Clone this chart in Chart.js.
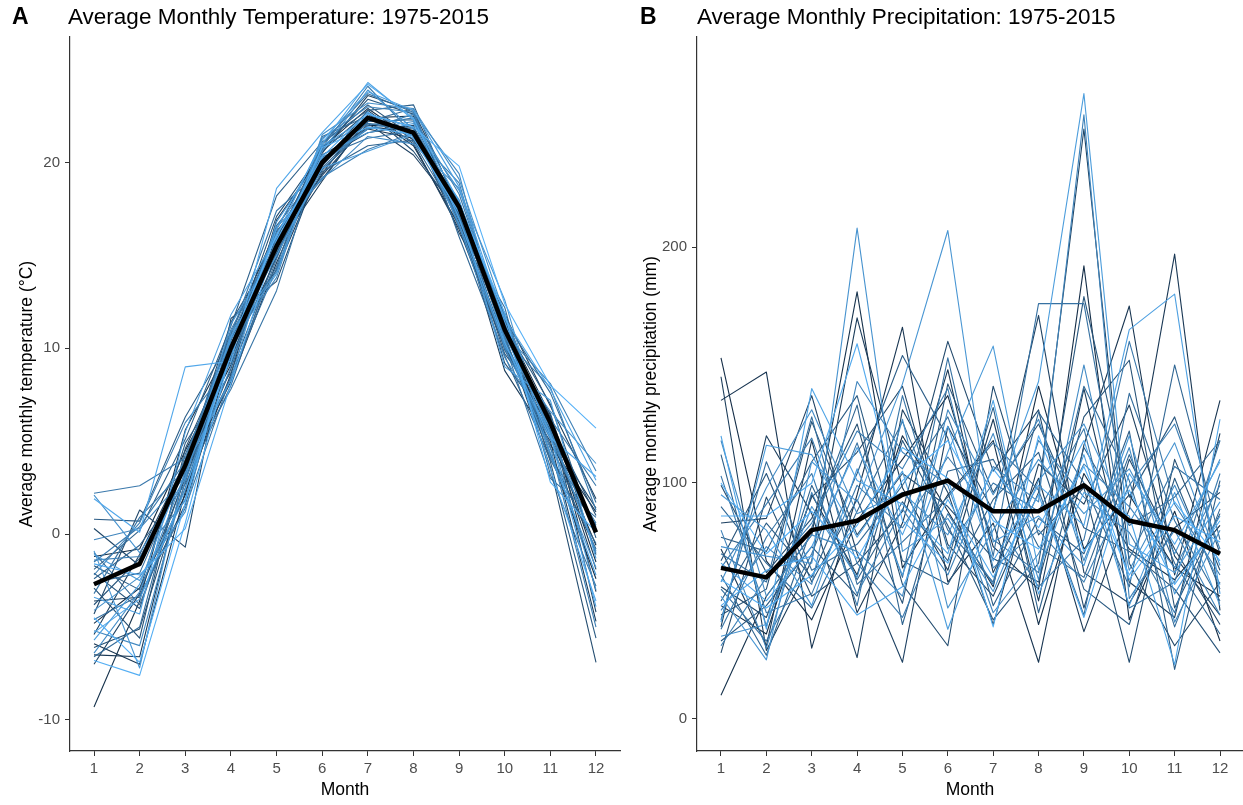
<!DOCTYPE html>
<html>
<head>
<meta charset="utf-8">
<script src="https://cdn.jsdelivr.net/npm/chart.js@4.4.1/dist/chart.umd.min.js"></script>
<style>
  body { margin: 0; background: #fff; }
  #wrapA, #wrapB { position: absolute; top: 0; }
  #wrapA { left: 0; }
  #wrapB { left: 625px; }
</style>
</head>
<body>
<div id="wrapA"><canvas id="tempChart" width="625" height="805"></canvas></div>
<div id="wrapB"><canvas id="precipChart" width="618" height="805"></canvas></div>
<script>
var months = [1, 2, 3, 4, 5, 6, 7, 8, 9, 10, 11, 12];
var years = [];
for (var y = 1975; y <= 2015; y++) years.push(y);

var tempTicks = [-10, 0, 10, 20];
var precipTicks = [0, 100, 200];

// monthly mean over all years
var tempMean = [-2.7, -1.6, 3.7, 10.0, 15.5, 20.0, 22.4, 21.6, 17.6, 11.0, 6.0, 0.1];
var precipMean = [64, 60, 80, 84, 95, 101, 88, 88, 99, 84, 80, 70];

// one row per year, Jan..Dec (deg C)
var tempRows = [
  [-1.2, -0.8, 4.5, 9.1, 15.8, 19.6, 22.0, 21.9, 17.0, 10.4, 5.2, -0.6],
  [-4.8, -2.9, 2.1, 10.8, 16.4, 20.8, 22.9, 21.2, 17.8, 11.6, 4.3, -2.4],
  [-9.3, -3.6, 5.6, 10.2, 15.1, 19.4, 22.6, 20.9, 16.6, 10.1, 5.8, -1.5],
  [-5.9, -7.0, 2.3, 8.6, 16.9, 20.4, 21.8, 21.3, 17.9, 11.3, 6.4, -3.1],
  [-6.5, -6.6, 3.4, 8.2, 14.6, 20.1, 21.9, 21.7, 16.8, 10.3, 4.8, 1.2],
  [-3.6, -3.4, 1.6, 9.8, 15.4, 19.0, 22.4, 22.5, 17.1, 8.8, 5.0, -4.7],
  [-5.4, -1.1, 3.9, 10.9, 14.2, 19.9, 22.8, 21.0, 16.4, 10.0, 5.6, -1.9],
  [-7.0, -3.2, 3.0, 8.9, 16.1, 19.3, 22.1, 20.4, 17.3, 11.8, 6.9, 1.9],
  [0.3, -1.7, 4.0, 9.5, 14.9, 20.5, 23.6, 22.8, 17.6, 10.9, 6.3, -4.2],
  [-4.3, 1.3, -0.7, 11.6, 13.6, 20.2, 21.6, 22.0, 16.2, 11.9, 5.2, 1.4],
  [-6.1, -5.1, 2.8, 10.4, 16.3, 19.1, 22.3, 21.6, 17.9, 10.7, 3.6, -6.9],
  [-2.9, -5.6, 4.6, 10.1, 17.1, 20.6, 22.7, 20.6, 17.2, 11.1, 4.3, -0.8],
  [-3.8, -1.3, 3.7, 11.4, 15.6, 21.0, 23.1, 21.4, 17.5, 9.2, 5.9, 1.0],
  [-2.1, -4.0, 3.2, 9.4, 15.9, 20.7, 23.4, 22.6, 17.1, 9.7, 6.5, -1.1],
  [-1.7, -3.0, 4.9, 8.7, 15.0, 19.8, 22.6, 21.9, 17.6, 11.4, 3.9, -5.6],
  [0.8, 0.7, 6.3, 10.5, 15.3, 20.1, 22.2, 22.3, 17.0, 11.2, 7.0, -0.2],
  [-1.9, 0.2, 5.1, 11.2, 18.2, 21.1, 22.8, 23.1, 17.4, 10.6, 4.1, 0.5],
  [-2.4, -0.6, 2.7, 8.0, 15.2, 19.5, 20.9, 21.2, 17.8, 9.9, 5.6, 0.4],
  [-1.0, -3.8, 2.5, 10.0, 16.6, 19.7, 22.2, 22.9, 16.0, 9.6, 4.0, -0.5],
  [-6.6, -5.0, 4.3, 9.9, 14.4, 21.4, 22.5, 21.1, 17.0, 11.5, 7.6, 1.7],
  [-2.6, -2.1, 3.6, 8.4, 14.8, 21.0, 23.7, 22.7, 16.5, 12.2, 3.2, -2.8],
  [-4.6, -3.3, 1.4, 8.5, 14.3, 20.3, 21.3, 21.7, 17.1, 10.2, 3.0, 0.9],
  [-3.2, 0.9, 3.5, 7.8, 13.1, 20.9, 22.1, 21.8, 17.7, 10.6, 4.6, 0.6],
  [2.2, 2.6, 4.1, 10.7, 17.4, 19.6, 22.0, 22.4, 18.3, 11.0, 6.2, 2.6],
  [-1.5, 0.4, 3.9, 11.0, 15.6, 20.8, 24.1, 21.5, 18.9, 10.5, 7.9, 1.3],
  [-2.2, 0.6, 6.0, 9.2, 15.9, 19.2, 20.7, 21.6, 16.9, 11.7, 4.7, -5.0],
  [-1.4, -1.2, 1.8, 10.6, 16.2, 20.0, 21.8, 22.6, 17.3, 10.8, 8.1, 3.4],
  [-0.3, 0.3, 3.1, 10.3, 13.8, 21.3, 23.0, 22.7, 19.4, 10.0, 5.1, 0.3],
  [-5.2, -6.0, 2.9, 9.0, 15.7, 20.2, 21.8, 22.2, 16.6, 9.5, 5.5, -0.9],
  [-6.4, -3.1, 3.3, 9.6, 16.5, 19.1, 21.4, 21.0, 18.6, 10.7, 5.7, -1.0],
  [-4.1, -2.3, 1.2, 10.9, 14.1, 21.5, 23.2, 22.9, 19.1, 11.8, 5.4, -3.0],
  [2.1, -1.0, 3.0, 11.3, 15.3, 20.6, 23.9, 21.8, 16.7, 10.1, 6.6, 3.8],
  [-0.9, -7.2, 3.6, 8.3, 16.8, 20.4, 21.6, 22.1, 18.5, 12.6, 4.2, -1.8],
  [-1.1, -2.5, 1.9, 10.5, 14.0, 20.9, 22.4, 21.4, 18.0, 10.4, 4.4, -2.2],
  [-5.7, -2.7, 3.8, 10.6, 15.0, 19.7, 20.6, 21.5, 17.6, 9.0, 7.2, -1.3],
  [-3.4, -4.3, 5.5, 11.8, 16.0, 21.2, 23.8, 22.8, 18.7, 11.4, 5.3, -3.9],
  [-5.3, -3.5, 2.4, 9.7, 16.4, 21.0, 24.3, 22.3, 17.9, 11.6, 7.8, 2.9],
  [1.9, 0.1, 9.0, 9.3, 18.6, 21.6, 24.2, 22.4, 17.0, 10.3, 5.2, 3.1],
  [-1.6, -2.2, 0.3, 8.1, 15.8, 20.3, 22.7, 21.3, 17.3, 11.2, 3.5, -3.6],
  [-6.8, -7.6, 0.6, 9.8, 15.4, 20.8, 21.9, 21.5, 17.8, 11.9, 2.8, 0.1],
  [-4.5, -6.9, 1.7, 10.2, 16.1, 20.0, 22.6, 21.9, 19.8, 12.4, 8.0, 5.7]
];

// one row per year, Jan..Dec (mm)
var precipRows = [
  [48, 36, 95, 61, 120, 88, 56, 141, 72, 95, 64, 52],
  [153, 67, 42, 84, 110, 137, 73, 55, 192, 42, 88, 33],
  [10, 52, 78, 181, 64, 95, 118, 40, 104, 72, 59, 82],
  [135, 147, 30, 95, 166, 58, 83, 24, 116, 175, 61, 135],
  [72, 31, 118, 45, 83, 148, 62, 102, 37, 89, 197, 46],
  [145, 29, 67, 170, 98, 63, 127, 50, 140, 58, 43, 121],
  [39, 120, 87, 26, 131, 96, 40, 108, 91, 133, 69, 44],
  [83, 85, 137, 70, 24, 124, 88, 171, 62, 49, 81, 96],
  [56, 43, 94, 113, 141, 74, 52, 96, 250, 66, 31, 58],
  [28, 94, 52, 66, 88, 160, 105, 131, 47, 110, 72, 40],
  [99, 62, 85, 125, 57, 31, 141, 78, 98, 24, 110, 63],
  [44, 55, 126, 78, 104, 90, 68, 58, 128, 152, 47, 87],
  [67, 104, 58, 93, 49, 142, 96, 125, 81, 71, 55, 28],
  [33, 48, 73, 52, 118, 82, 42, 66, 179, 94, 128, 70],
  [77, 71, 109, 137, 67, 57, 93, 113, 55, 40, 102, 55],
  [50, 83, 60, 104, 154, 119, 48, 85, 70, 122, 21, 101],
  [112, 39, 99, 59, 92, 67, 132, 45, 115, 82, 94, 118],
  [61, 27, 81, 133, 40, 105, 110, 73, 60, 112, 66, 36],
  [90, 66, 47, 88, 126, 80, 58, 130, 100, 56, 150, 76],
  [42, 109, 63, 74, 99, 128, 76, 62, 141, 101, 39, 89],
  [70, 58, 128, 57, 75, 94, 117, 97, 44, 138, 84, 50],
  [55, 33, 70, 117, 60, 153, 69, 176, 176, 68, 107, 93],
  [38, 77, 104, 48, 137, 72, 100, 88, 123, 47, 58, 118],
  [103, 45, 53, 99, 81, 111, 86, 56, 76, 160, 91, 61],
  [64, 91, 119, 66, 43, 87, 57, 118, 94, 79, 45, 104],
  [31, 60, 83, 122, 106, 140, 64, 80, 58, 99, 125, 72],
  [80, 30, 96, 53, 89, 61, 107, 92, 256, 51, 80, 44],
  [46, 73, 57, 143, 113, 99, 45, 70, 108, 90, 64, 99],
  [118, 52, 78, 71, 52, 131, 95, 127, 67, 115, 41, 80],
  [58, 98, 131, 87, 96, 78, 121, 59, 150, 63, 99, 57],
  [35, 40, 90, 60, 127, 47, 80, 110, 87, 106, 70, 110],
  [73, 69, 66, 208, 71, 85, 54, 101, 125, 83, 117, 65],
  [52, 25, 109, 92, 142, 207, 75, 86, 65, 120, 53, 86],
  [95, 80, 48, 106, 61, 113, 158, 63, 112, 48, 96, 48],
  [41, 116, 112, 77, 105, 38, 89, 143, 265, 74, 62, 92],
  [66, 50, 73, 115, 78, 124, 67, 99, 82, 165, 180, 53],
  [120, 38, 140, 101, 91, 70, 135, 53, 96, 86, 23, 127],
  [48, 63, 69, 44, 56, 93, 60, 95, 43, 104, 74, 109],
  [86, 86, 100, 159, 84, 66, 106, 81, 118, 59, 86, 75],
  [59, 47, 61, 82, 115, 102, 39, 120, 71, 97, 57, 84],
  [100, 70, 88, 68, 101, 118, 84, 72, 107, 61, 92, 67]
];

var FONT = "'Liberation Sans', Arial, sans-serif";
var lowCol = [19, 43, 67];     // #132B43
var highCol = [86, 177, 247];  // #56B1F7

function yearColor(i) {
  var t = i / (years.length - 1);
  var c = lowCol.map(function (v, k) { return Math.round(v + (highCol[k] - v) * t); });
  return "rgb(" + c.join(",") + ")";
}

function buildDatasets(rows, mean) {
  var sets = [{
    label: "mean",
    data: months.map(function (m, j) { return { x: m, y: mean[j] }; }),
    borderColor: "#000",
    borderWidth: 4.5,
    order: 0
  }];
  for (var i = 0; i < years.length; i++) {
    sets.push({
      label: String(years[i]),
      data: months.map(function (m, j) { return { x: m, y: rows[i][j] }; }),
      borderColor: yearColor(i),
      borderWidth: 1.1,
      order: years.length - i
    });
  }
  return sets;
}

// panel letter + title drawn at the top of each canvas
var headerPlugin = {
  id: "header",
  afterDraw: function (chart, args, opts) {
    var ctx = chart.ctx;
    ctx.save();
    ctx.textBaseline = "middle";
    ctx.fillStyle = "#000";
    ctx.font = "bold 23px " + FONT;
    ctx.fillText(opts.tag, opts.tagX, 18);
    ctx.font = "22.5px " + FONT;
    ctx.fillText(opts.text, opts.textX, 18);
    ctx.restore();
  }
};

function makeChart(id, rows, mean, cfg) {
  return new Chart(document.getElementById(id), {
    type: "line",
    data: { datasets: buildDatasets(rows, mean) },
    plugins: [headerPlugin],
    options: {
      responsive: false,
      animation: false,
      parsing: false,
      elements: {
        point: { radius: 0, hoverRadius: 0 },
        line: { tension: 0, borderJoinStyle: "round", borderCapStyle: "butt" }
      },
      layout: { padding: { left: 0, right: cfg.padRight, top: 37, bottom: 0 } },
      plugins: {
        legend: { display: false },
        tooltip: { enabled: false },
        header: cfg.header
      },
      scales: {
        x: {
          type: "linear",
          min: cfg.xMin,
          max: cfg.xMax,
          afterBuildTicks: function (s) { s.ticks = months.map(function (v) { return { value: v }; }); },
          afterFit: function (s) { s.height = 54; },
          grid: { drawOnChartArea: false, tickLength: 5, color: "#333", tickWidth: 1 },
          border: { color: "#333", width: 1.2 },
          ticks: { color: "#4d4d4d", font: { family: FONT, size: 15 }, padding: 4, maxRotation: 0, autoSkip: false },
          title: { display: true, text: "Month", color: "#000", font: { family: FONT, size: 17.5 }, padding: { top: 4, bottom: 4 } }
        },
        y: {
          type: "linear",
          min: cfg.yMin,
          max: cfg.yMax,
          afterBuildTicks: function (s) { s.ticks = cfg.yTicks.map(function (v) { return { value: v }; }); },
          afterFit: function (s) { s.width = cfg.yWidth; },
          grid: { drawOnChartArea: false, tickLength: 5, color: "#333", tickWidth: 1 },
          border: { color: "#333", width: 1.2 },
          ticks: { color: "#4d4d4d", font: { family: FONT, size: 15 }, padding: 5 },
          title: { display: true, text: cfg.yTitle, color: "#000", font: { family: FONT, size: 17.5 }, padding: { top: cfg.yTitlePad, bottom: 0 } }
        }
      }
    }
  });
}

makeChart("tempChart", tempRows, tempMean, {
  xMin: 0.474, xMax: 12.526,
  yMin: -11.67, yMax: 26.75,
  yTicks: tempTicks,
  yWidth: 70,
  padRight: 5,
  yTitle: "Average monthly temperature (°C)",
  yTitlePad: 17,
  header: { tag: "A", tagX: 12, text: "Average Monthly Temperature: 1975-2015", textX: 68 }
});

makeChart("precipChart", precipRows, precipMean, {
  xMin: 0.471, xMax: 12.507,
  yMin: -13.6, yMax: 289,
  yTicks: precipTicks,
  yWidth: 72,
  padRight: 0,
  yTitle: "Average monthly precipitation (mm)",
  yTitlePad: 16,
  header: { tag: "B", tagX: 15, text: "Average Monthly Precipitation: 1975-2015", textX: 72 }
});
</script>
</body>
</html>
